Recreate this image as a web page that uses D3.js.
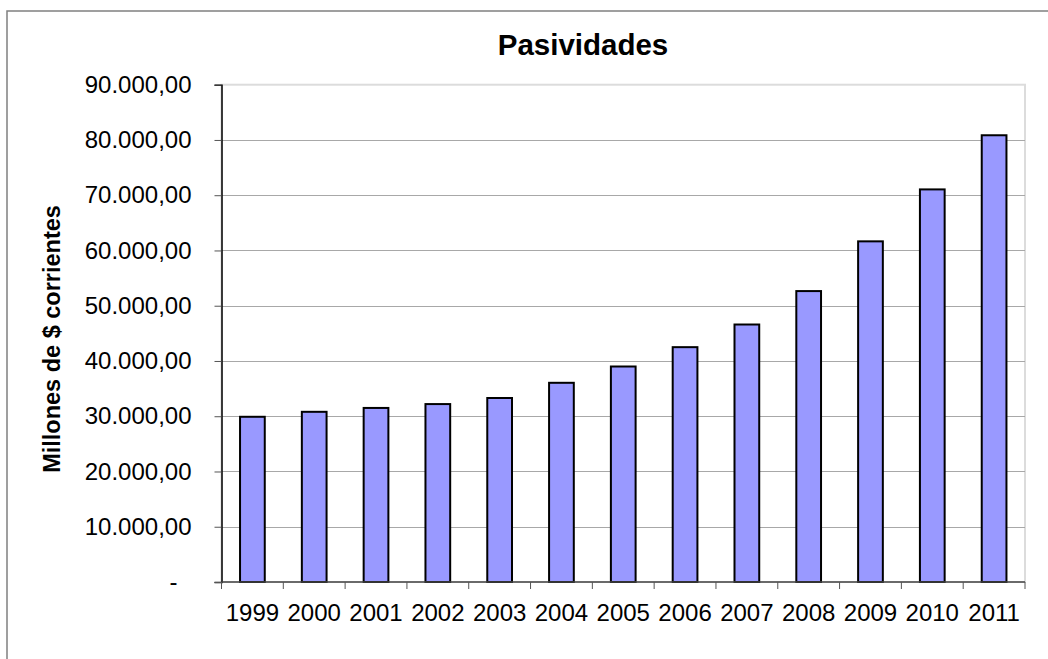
<!DOCTYPE html>
<html>
<head>
<meta charset="utf-8">
<script src="https://cdn.jsdelivr.net/npm/d3@7/dist/d3.min.js"></script>
<style>
  html, body { margin: 0; padding: 0; background: #fff; }
  svg { display: block; font-family: "Liberation Sans", Arial, sans-serif; }
</style>
</head>
<body>
<svg id="chart" width="1048" height="659"></svg>
<script>
// Liabilities per year, millions of current pesos
const years = ["1999","2000","2001","2002","2003","2004","2005","2006","2007","2008","2009","2010","2011"];
const pasividades = [29900, 30800, 31500, 32200, 33300, 36050, 39000, 42500, 46600, 52650, 61650, 71050, 80850];
const yTicks = [0, 10000, 20000, 30000, 40000, 50000, 60000, 70000, 80000, 90000];
const titleText = "Pasividades";
const yAxisTitle = "Millones de $ corrientes";

const svg = d3.select("#chart");
const W = 1048, H = 659;
const plot = { left: 221.5, right: 1025, top: 84.7, bottom: 582 };

// Spanish number style: 90.000,00
const es = d3.formatLocale({ decimal: ",", thousands: ".", grouping: [3], currency: ["$", ""] });
const fmt = es.format(",.2f");

// Outer chart frame (runs past the right and bottom edges)
svg.append("rect")
  .attr("x", 7).attr("y", 11)
  .attr("width", W + 20).attr("height", H + 20)
  .attr("fill", "#fff").attr("stroke", "#808080").attr("stroke-width", 1.5);

const x = d3.scaleBand()
  .domain(years)
  .range([plot.left, plot.right])
  .paddingInner(0.6)
  .paddingOuter(0.3);

const y = d3.scaleLinear()
  .domain([0, 90000])
  .range([plot.bottom, plot.top]);

// Plot area border
svg.append("rect")
  .attr("x", plot.left).attr("y", plot.top)
  .attr("width", plot.right - plot.left).attr("height", plot.bottom - plot.top)
  .attr("fill", "none").attr("stroke", "#dcdcdc").attr("stroke-width", 2);

// Horizontal gridlines
svg.append("g")
  .selectAll("line")
  .data(yTicks.filter(d => d > 0 && d < 90000))
  .join("line")
  .attr("x1", plot.left).attr("x2", plot.right)
  .attr("y1", d => Math.round(y(d)) + 0.5).attr("y2", d => Math.round(y(d)) + 0.5)
  .attr("stroke", "#a8a8a8").attr("stroke-width", 1.2);

// Bars
svg.append("g")
  .selectAll("rect")
  .data(years.map((yr, i) => ({ yr, v: pasividades[i] })))
  .join("rect")
  .attr("x", d => x(d.yr))
  .attr("y", d => y(d.v))
  .attr("width", x.bandwidth())
  .attr("height", d => y(0) - y(d.v))
  .attr("fill", "#9999ff")
  .attr("stroke", "#000")
  .attr("stroke-width", 2);

// Y axis
const yAxis = svg.append("g")
  .attr("transform", `translate(${plot.left},0)`)
  .call(d3.axisLeft(y).tickValues(yTicks).tickSize(7).tickPadding(23)
    .tickFormat(d => d === 0 ? "-" : fmt(d)));
yAxis.select(".domain").attr("stroke", "#000").attr("stroke-width", 1.5);
yAxis.selectAll(".tick line").attr("stroke", "#555");
yAxis.selectAll(".tick text")
  .attr("font-size", 24).attr("fill", "#000")
  .attr("font-family", "'Liberation Sans', Arial, sans-serif")
  .attr("dx", d => d === 0 ? -14 : 0);

// X axis with ticks between categories
const xAxisG = svg.append("g").attr("transform", `translate(0,${plot.bottom})`);
xAxisG.append("line")
  .attr("x1", plot.left).attr("x2", plot.right)
  .attr("y1", 0).attr("y2", 0)
  .attr("stroke", "#444").attr("stroke-width", 1.5);
const step = x.step();
xAxisG.selectAll(".sep")
  .data(d3.range(years.length + 1))
  .join("line")
  .attr("class", "sep")
  .attr("x1", i => plot.left + i * step).attr("x2", i => plot.left + i * step)
  .attr("y1", 0).attr("y2", 7)
  .attr("stroke", "#555").attr("stroke-width", 1);
xAxisG.selectAll(".lbl")
  .data(years)
  .join("text")
  .attr("class", "lbl")
  .attr("x", d => x(d) + x.bandwidth() / 2)
  .attr("y", 39)
  .attr("text-anchor", "middle")
  .attr("font-size", 24)
  .attr("fill", "#000")
  .text(d => d);

// Title
svg.append("text")
  .attr("x", 583).attr("y", 55)
  .attr("text-anchor", "middle")
  .attr("font-size", 29.5)
  .attr("font-weight", "bold")
  .text(titleText);

// Y axis title
svg.append("text")
  .attr("transform", "translate(60,339) rotate(-90)")
  .attr("text-anchor", "middle")
  .attr("font-size", 23.5)
  .attr("font-weight", "bold")
  .text(yAxisTitle);
</script>
</body>
</html>
